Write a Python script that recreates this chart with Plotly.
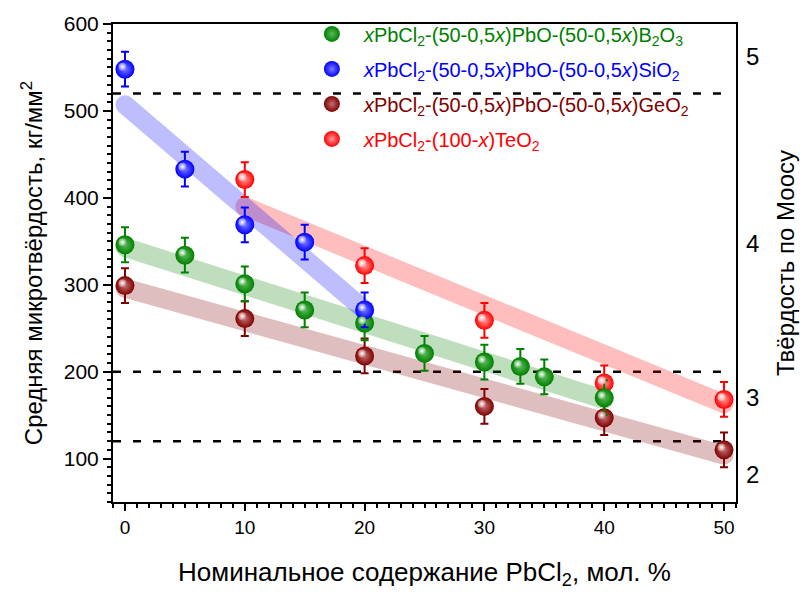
import plotly.graph_objects as go

# PbCl2 content (mol. %) and mean microhardness (kg/mm^2) for each glass system
x_b2o3 = [0, 5, 10, 15, 20, 25, 30, 33, 35, 40]
h_b2o3 = [346, 334, 301, 271, 256, 221, 211, 206, 194, 170]
e_b2o3 = [20, 20, 20, 20, 20, 20, 20, 20, 20, 20]

x_sio2 = [0, 5, 10, 15, 20]
h_sio2 = [548, 433, 369, 349, 271]
e_sio2 = [20, 20, 20, 20, 20]

x_geo2 = [0, 10, 20, 30, 40, 50]
h_geo2 = [299, 261, 218, 160, 147, 110]
e_geo2 = [20, 20, 20, 20, 20, 20]

x_teo2 = [10, 20, 30, 40, 50]
h_teo2 = [421, 322, 259, 187, 168]
e_teo2 = [20, 20, 20, 20, 20]

# linear trend bands (end points)
tx_b2o3, ty_b2o3 = [0, 40], [343, 168]
tx_sio2, ty_sio2 = [0, 20], [507, 271]
tx_geo2, ty_geo2 = [0, 50], [296, 104]
tx_teo2, ty_teo2 = [10, 50], [390, 163]

# reference microhardness levels (dashed lines)
ref_levels = [520, 200, 120]
ref_span = [-1, 50]

# Mohs hardness scale and matching microhardness positions
mohs_labels = ["2", "3", "4", "5"]
mohs_pos = [81, 170, 347, 562]

x_ticks = [0, 10, 20, 30, 40, 50]
y_ticks = [100, 200, 300, 400, 500, 600]

X_RANGE = [-1, 51]
Y_RANGE = [50, 600]

FONT = "Liberation Sans, Arial, sans-serif"

series = [
    # name, x, y, err, trend x, trend y, color, light tint, legend rank
    ("<i>x</i>PbCl<sub>2</sub>-(100-<i>x</i>)TeO<sub>2</sub>",
     x_teo2, h_teo2, e_teo2, tx_teo2, ty_teo2, "#ff0000", "#ff9a9a", 4),
    ("<i>x</i>PbCl<sub>2</sub>-(50-0,5<i>x</i>)PbO-(50-0,5<i>x</i>)GeO<sub>2</sub>",
     x_geo2, h_geo2, e_geo2, tx_geo2, ty_geo2, "#800000", "#c07070", 3),
    ("<i>x</i>PbCl<sub>2</sub>-(50-0,5<i>x</i>)PbO-(50-0,5<i>x</i>)B<sub>2</sub>O<sub>3</sub>",
     x_b2o3, h_b2o3, e_b2o3, tx_b2o3, ty_b2o3, "#008000", "#5cb85c", 1),
    ("<i>x</i>PbCl<sub>2</sub>-(50-0,5<i>x</i>)PbO-(50-0,5<i>x</i>)SiO<sub>2</sub>",
     x_sio2, h_sio2, e_sio2, tx_sio2, ty_sio2, "#0000ff", "#7a7aff", 2),
]

fig = go.Figure()

# translucent trend bands underneath the data
for name, xs, ys, es, tx, ty, col, tint, rank in series:
    fig.add_trace(go.Scatter(
        x=tx, y=ty, mode="lines+markers",
        line=dict(color=col, width=19),
        marker=dict(color=col, size=19, line=dict(width=0)),
        opacity=0.25, showlegend=False, hoverinfo="skip",
    ))

# data points with error bars
for name, xs, ys, es, tx, ty, col, tint, rank in series:
    fig.add_trace(go.Scatter(
        x=xs, y=ys, mode="markers",
        name=f'<span style="color:{col}">{name}</span>',
        legendrank=rank, legendgroup=str(rank),
        error_y=dict(type="data", array=es, visible=True,
                     color=col, thickness=2, width=4),
        marker=dict(color=col, size=19, line=dict(width=0),
                    gradient=dict(type="radial", color=tint)),
    ))

# specular highlights on the spheres (drawn on slightly shifted overlay axes)
for name, xs, ys, es, tx, ty, col, tint, rank in series:
    fig.add_trace(go.Scatter(
        x=xs, y=ys, mode="markers", xaxis="x2", yaxis="y3",
        marker=dict(color=tint, size=8, line=dict(width=0),
                    gradient=dict(type="radial", color="white")),
        showlegend=False, hoverinfo="skip",
    ))

# empty trace so the Mohs axis on the right is drawn
fig.add_trace(go.Scatter(x=[None], y=[None], yaxis="y2", mode="markers",
                         showlegend=False, hoverinfo="skip"))

# dashed reference levels
for lvl in ref_levels:
    fig.add_shape(type="line", xref="x", yref="y",
                  x0=ref_span[0], x1=ref_span[1], y0=lvl, y1=lvl,
                  line=dict(color="black", width=2.5, dash="8px,12px"),
                  layer="below")

px_per_x = 625 / (X_RANGE[1] - X_RANGE[0])
px_per_y = 485 / (Y_RANGE[1] - Y_RANGE[0])
dx = 2.5 / px_per_x
dy = 2.5 / px_per_y

fig.update_layout(
    width=806, height=594,
    margin=dict(l=113, r=68, t=18, b=91),
    paper_bgcolor="white", plot_bgcolor="white",
    font=dict(family=FONT, color="black"),
    xaxis=dict(
        range=X_RANGE, tickvals=x_ticks, showgrid=False, zeroline=False,
        showline=True, linecolor="black", linewidth=2, mirror=True,
        ticks="outside", ticklen=7, tickwidth=2, tickcolor="black",
        minor=dict(dtick=1, ticks="outside", ticklen=4, tickwidth=1.5,
                   tickcolor="black", showgrid=False),
        tickfont=dict(size=19),
        title=dict(text="Номинальное содержание PbCl<sub>2</sub>, мол. %",
                   font=dict(size=26), standoff=26),
    ),
    yaxis=dict(
        range=Y_RANGE, tickvals=y_ticks, showgrid=False, zeroline=False,
        showline=True, linecolor="black", linewidth=2, mirror=True,
        ticks="outside", ticklen=8, tickwidth=2, tickcolor="black",
        minor=dict(dtick=10, ticks="outside", ticklen=4, tickwidth=1.5,
                   tickcolor="black", showgrid=False),
        tickfont=dict(size=21),
        title=dict(text="Средняя микротвёрдость, кг/мм<sup>2</sup>",
                   font=dict(size=24), standoff=14),
    ),
    yaxis2=dict(
        overlaying="y", side="right", range=Y_RANGE,
        tickvals=mohs_pos, ticktext=mohs_labels,
        showgrid=False, zeroline=False, showline=False, ticks="",
        ticklabelstandoff=9, tickfont=dict(size=24),
        title=dict(text="Твёрдость по Моосу", font=dict(size=24), standoff=18),
    ),
    xaxis2=dict(overlaying="x", range=[X_RANGE[0] + dx, X_RANGE[1] + dx],
                visible=False),
    yaxis3=dict(overlaying="y", range=[Y_RANGE[0] - dy, Y_RANGE[1] - dy],
                visible=False),
    legend=dict(
        x=0.30, y=1.02, xanchor="left", yanchor="top",
        bgcolor="rgba(0,0,0,0)", borderwidth=0,
        font=dict(size=20, family=FONT),
        itemwidth=54, traceorder="grouped", tracegroupgap=6,
    ),
)

fig.write_html("out.html")
